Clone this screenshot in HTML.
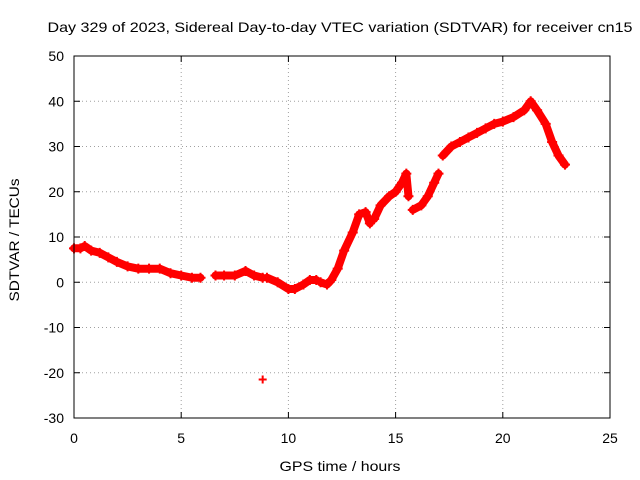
<!DOCTYPE html>
<html><head><meta charset="utf-8"><style>
body{margin:0;background:#fff}
svg{display:block;font-family:"Liberation Sans",sans-serif}
</style></head><body>
<svg id="chart" width="640" height="480">
<text x="340" y="32" text-anchor="middle" font-size="14" textLength="585" lengthAdjust="spacingAndGlyphs">Day 329 of 2023, Sidereal Day-to-day VTEC variation (SDTVAR) for receiver cn15</text>
<text x="340" y="471" text-anchor="middle" font-size="14" textLength="121" lengthAdjust="spacingAndGlyphs">GPS time / hours</text>
<text transform="translate(19,240) rotate(-90)" text-anchor="middle" font-size="14" textLength="123" lengthAdjust="spacingAndGlyphs">SDTVAR / TECUs</text>
<g id="grid"></g><g id="ticks"></g><g id="marks"></g>
<rect x="74" y="56" width="536" height="362" fill="none" stroke="#000"/>
</svg>
<script>
const xTicks=[0,5,10,15,20,25];
const yTicks=[-30,-20,-10,0,10,20,30,40,50];
// segments of the series (hours, TECU); null separates data gaps
const hours=[0,0.3,0.5,0.8,1.2,1.6,2,2.5,3,3.5,4,4.5,5,5.5,5.9,null,
 6.6,7,7.5,8,8.4,8.8,null,
 9,9.5,10,10.3,10.7,11,11.3,null,
 11.5,11.8,12,12.3,12.6,13,13.3,13.6,13.8,null,
 14,14.3,14.7,15,15.3,15.5,15.6,null,
 15.8,16.2,16.5,16.8,17,null,
 17.2,17.6,18,18.4,18.8,19.2,19.6,20,20.5,21,21.3,21.6,22,22.3,22.6,22.9];
const values=[7.5,7.5,8,7,6.5,5.5,4.5,3.5,3,3,3,2,1.5,1,1,null,
 1.5,1.5,1.5,2.5,1.5,1,null,
 1,0,-1.5,-1.5,-0.5,0.5,0.5,null,
 0,-0.5,0.5,3,7,11,15,15.5,13,null,
 14,17,19,20,22,24,19,null,
 16,17,19,22,24,null,
 28,30,31,32,33,34,35,35.5,36.5,38,40,38,35,31,28,26];
const outlierX=[8.8], outlierY=[-21.5];
const X0=74,X1=610,Y0=418,Y1=56;
const xs=v=>X0+(v-0)/25*(X1-X0);
const ys=v=>Y0-(v+30)/80*(Y0-Y1);
const NS="http://www.w3.org/2000/svg";
function mk(t,a,p){const e=document.createElementNS(NS,t);for(const k in a)e.setAttribute(k,a[k]);p.appendChild(e);return e;}
const grid=document.getElementById('grid'),ticks=document.getElementById('ticks'),marks=document.getElementById('marks');
xTicks.forEach(t=>{const x=xs(t);
 if(t>0&&t<25){const g=mk('line',{x1:x,x2:x,y1:Y1,y2:Y0,stroke:'#a0a0a0','stroke-dasharray':'1,3'},grid);
 
 }
 mk('line',{x1:x,x2:x,y1:Y0,y2:Y0-6,stroke:'#000'},ticks);mk('line',{x1:x,x2:x,y1:Y1,y2:Y1+6,stroke:'#000'},ticks);
 const l=mk('text',{x:x,y:443,'text-anchor':'middle','font-size':14},ticks);l.textContent=t;
 
 });
yTicks.forEach(t=>{const y=ys(t);
 if(t>-30&&t<50){const g=mk('line',{x1:X0,x2:X1,y1:y,y2:y,stroke:'#a0a0a0','stroke-dasharray':'1,3'},grid);
 
 }
 mk('line',{x1:X0,x2:X0+6,y1:y,y2:y,stroke:'#000'},ticks);mk('line',{x1:X1,x2:X1-6,y1:y,y2:y,stroke:'#000'},ticks);
 const l=mk('text',{x:64,y:y+5,'text-anchor':'end','font-size':14},ticks);l.textContent=t;
 
 });
let d='',pen=false;
for(let i=0;i<hours.length;i++){
 if(hours[i]===null){pen=false;continue;}
 d+=(pen?'L':'M')+xs(hours[i]).toFixed(1)+' '+ys(values[i]).toFixed(1)+' ';pen=true;
 const p=mk('path',{d:`M${xs(hours[i])-5} ${ys(values[i])}h10M${xs(hours[i])} ${ys(values[i])-5}v10`,stroke:'#f00','stroke-width':2},marks);
 
 
}
const band=mk('path',{d:d,fill:'none',stroke:'#f00','stroke-width':8,'stroke-linejoin':'round','stroke-linecap':'round'},marks);


outlierX.forEach((h,i)=>{const x=xs(h),y=ys(outlierY[i]);
 const p=mk('path',{d:`M${x-4} ${y}h8M${x} ${y-4}v8`,stroke:'#f00','stroke-width':2},marks);
 
 });
</script>
</body></html>
